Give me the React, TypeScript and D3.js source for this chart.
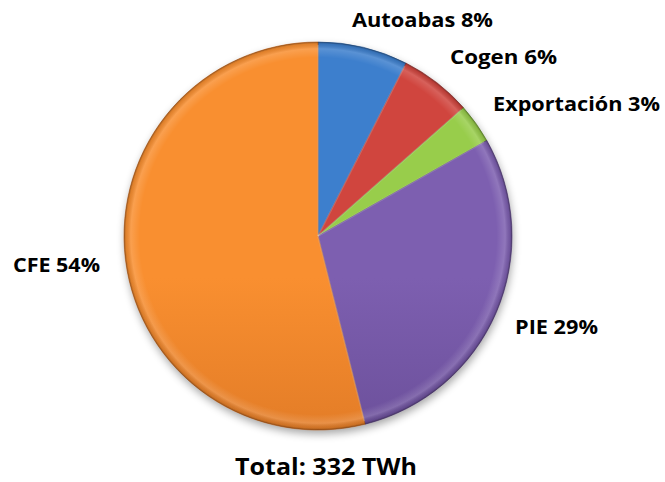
import React from "react";
import * as d3 from "d3";

const categories = ["Autoabas", "Cogen", "Exportación", "PIE", "CFE"];
const values = [7.5, 6.0, 3.3, 29.3, 53.9];
const labelPct = ["8%", "6%", "3%", "29%", "54%"];
const totalLabel = "Total: 332 TWh";

const colorsTop = ["#3d7fcd", "#d0453e", "#98cd4b", "#7d5fb0", "#f98f30"];
const colorsBottom = ["#285896", "#9f302c", "#6f9e31", "#533a7c", "#c2611a"];

// label layout (anchor start x, baseline y, target width)
const labelLayout = [
  { x: 352, y: 27, w: 141 },
  { x: 450, y: 64, w: 107 },
  { x: 493, y: 111, w: 167 },
  { x: 515, y: 334, w: 83 },
  { x: 13, y: 272, w: 87 },
];

export default function App() {
  const W = 665, H = 482;
  const cx = 318, cy = 236, R = 194;
  const pie = d3.pie<number>().sort(null).value((d) => d);
  const arcs = pie(values);
  const arc = d3.arc<d3.PieArcDatum<number>>().innerRadius(0).outerRadius(R);
  const font = "'Open Sans', Lato, sans-serif";

  return (
    <svg width={W} height={H} style={{ position: "absolute", left: 0, top: 0 }}>
      <defs>
        {values.map((_, i) => (
          <linearGradient key={i} id={`g${i}`} gradientUnits="userSpaceOnUse" x1={0} y1={cy - R} x2={0} y2={cy + R}>
            <stop offset="0" stopColor={colorsTop[i]} />
            <stop offset="1" stopColor={colorsBottom[i]} />
          </linearGradient>
        ))}
        <radialGradient id="bevel" gradientUnits="userSpaceOnUse" cx={cx} cy={cy} r={R}>
          <stop offset="0" stopColor="#fff" stopOpacity={0} />
          <stop offset="0.92" stopColor="#fff" stopOpacity={0} />
          <stop offset="0.965" stopColor="#fff" stopOpacity={0.15} />
          <stop offset="0.99" stopColor="#000" stopOpacity={0.1} />
          <stop offset="1" stopColor="#000" stopOpacity={0.35} />
        </radialGradient>
        <filter id="shadow" x="-20%" y="-20%" width="140%" height="140%">
          <feGaussianBlur stdDeviation="4" />
        </filter>
      </defs>
      <circle cx={cx + 1} cy={cy + 4} r={R} fill="#000" opacity={0.35} filter="url(#shadow)" />
      <g transform={`translate(${cx},${cy})`}>
        {arcs.map((a, i) => (
          <path key={i} d={arc(a) || ""} fill={`url(#g${i})`} stroke={colorsBottom[i]} strokeWidth={0.8} strokeOpacity={0.8} />
        ))}
        {arcs.map((a, i) => {
          const ang = a.startAngle;
          const x = Math.sin(ang) * (R - 3);
          const y = -Math.cos(ang) * (R - 3);
          return <line key={`l${i}`} x1={0} y1={0} x2={x} y2={y} stroke="#fff" strokeOpacity={0.22} strokeWidth={1.5} />;
        })}
      </g>
      <circle cx={cx} cy={cy} r={R} fill="url(#bevel)" />
      {categories.map((c, i) => (
        <text
          key={c}
          x={labelLayout[i].x}
          y={labelLayout[i].y}
          fontFamily={font}
          fontWeight="bold"
          fontSize={20}
          fill="#000"
          textLength={labelLayout[i].w}
          lengthAdjust="spacingAndGlyphs"
        >
          {`${c} ${labelPct[i]}`}
        </text>
      ))}
      <text x={235} y={475} fontFamily={font} fontWeight="bold" fontSize={23} textLength={182} lengthAdjust="spacingAndGlyphs">
        {totalLabel}
      </text>
    </svg>
  );
}
